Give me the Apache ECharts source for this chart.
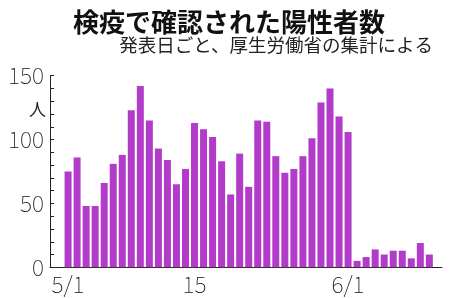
<!DOCTYPE html>
<html><head><meta charset="utf-8">
<script src="https://cdn.jsdelivr.net/npm/echarts@6/dist/echarts.min.js"></script>
<style>html,body{margin:0;padding:0;background:#fff}#c{width:450px;height:298px}</style>
</head><body><div id="c"></div>
<script>
const titleText = '検疫で確認された陽性者数';
const subtitleText = '発表日ごと、厚生労働省の集計による';
const unitText = '人';
// days from 5/1 (index 0) to 6/10 (index 40)
const values = [75, 86, 48, 48, 66, 81, 88, 123, 142, 115, 93, 84, 65, 77, 113, 108, 102, 83,
  57, 89, 63, 115, 114, 87, 74, 77, 87, 101, 129, 140, 118, 106,
  5, 8, 14, 10, 13, 13, 7, 19, 10];
const xTickLabels = {0: '5/1', 14: '15', 31: '6/1'};
const yTickLabels = [0, 50, 100, 150];

const font = '"Noto Sans CJK JP", "Noto Sans", sans-serif';
const chart = echarts.init(document.getElementById('c'), null, {renderer: 'canvas'});
chart.setOption({
  animation: false,
  title: [
    {text: titleText, left: 68, top: 4, textStyle: {fontFamily: font, fontSize: 26, fontWeight: 'bold', color: '#111'}},
    {text: subtitleText, right: 12, top: 31, textStyle: {fontFamily: font, fontSize: 18.5, fontWeight: 'normal', color: '#222'}},
    {text: unitText, left: 24, top: 96, textStyle: {fontFamily: font, fontSize: 17, fontWeight: 'normal', color: '#222'}}
  ],
  grid: {left: 50, right: 8, top: 75.7, bottom: 30.7, containLabel: false},
  xAxis: {
    type: 'value', min: -2, max: 41.4, interval: 1,
    axisLine: {show: true, onZero: false, lineStyle: {color: '#222', width: 1}},
    axisTick: {show: false}, splitLine: {show: false},
    axisLabel: {
      show: true, margin: 5, fontFamily: font, fontSize: 23, fontWeight: 'lighter', color: '#111',
      showMinLabel: true, showMaxLabel: true,
      formatter: v => (xTickLabels[v] !== undefined ? xTickLabels[v] : '')
    }
  },
  yAxis: {
    type: 'value', min: 0, max: 150, interval: 10,
    axisLine: {show: true, onZero: false, lineStyle: {color: '#222', width: 1}},
    axisTick: {show: true, inside: true, length: 4, lineStyle: {color: '#222'}},
    splitLine: {show: false},
    axisLabel: {
      margin: 6, fontFamily: font, fontSize: 23, fontWeight: 'lighter', color: '#111',
      formatter: v => (yTickLabels.indexOf(v) >= 0 ? String(v) : '')
    }
  },
  series: [{
    type: 'bar', barWidth: 7,
    itemStyle: {color: '#b23bc9'},
    data: values.map((v, i) => [i, v])
  }]
});
</script></body></html>
